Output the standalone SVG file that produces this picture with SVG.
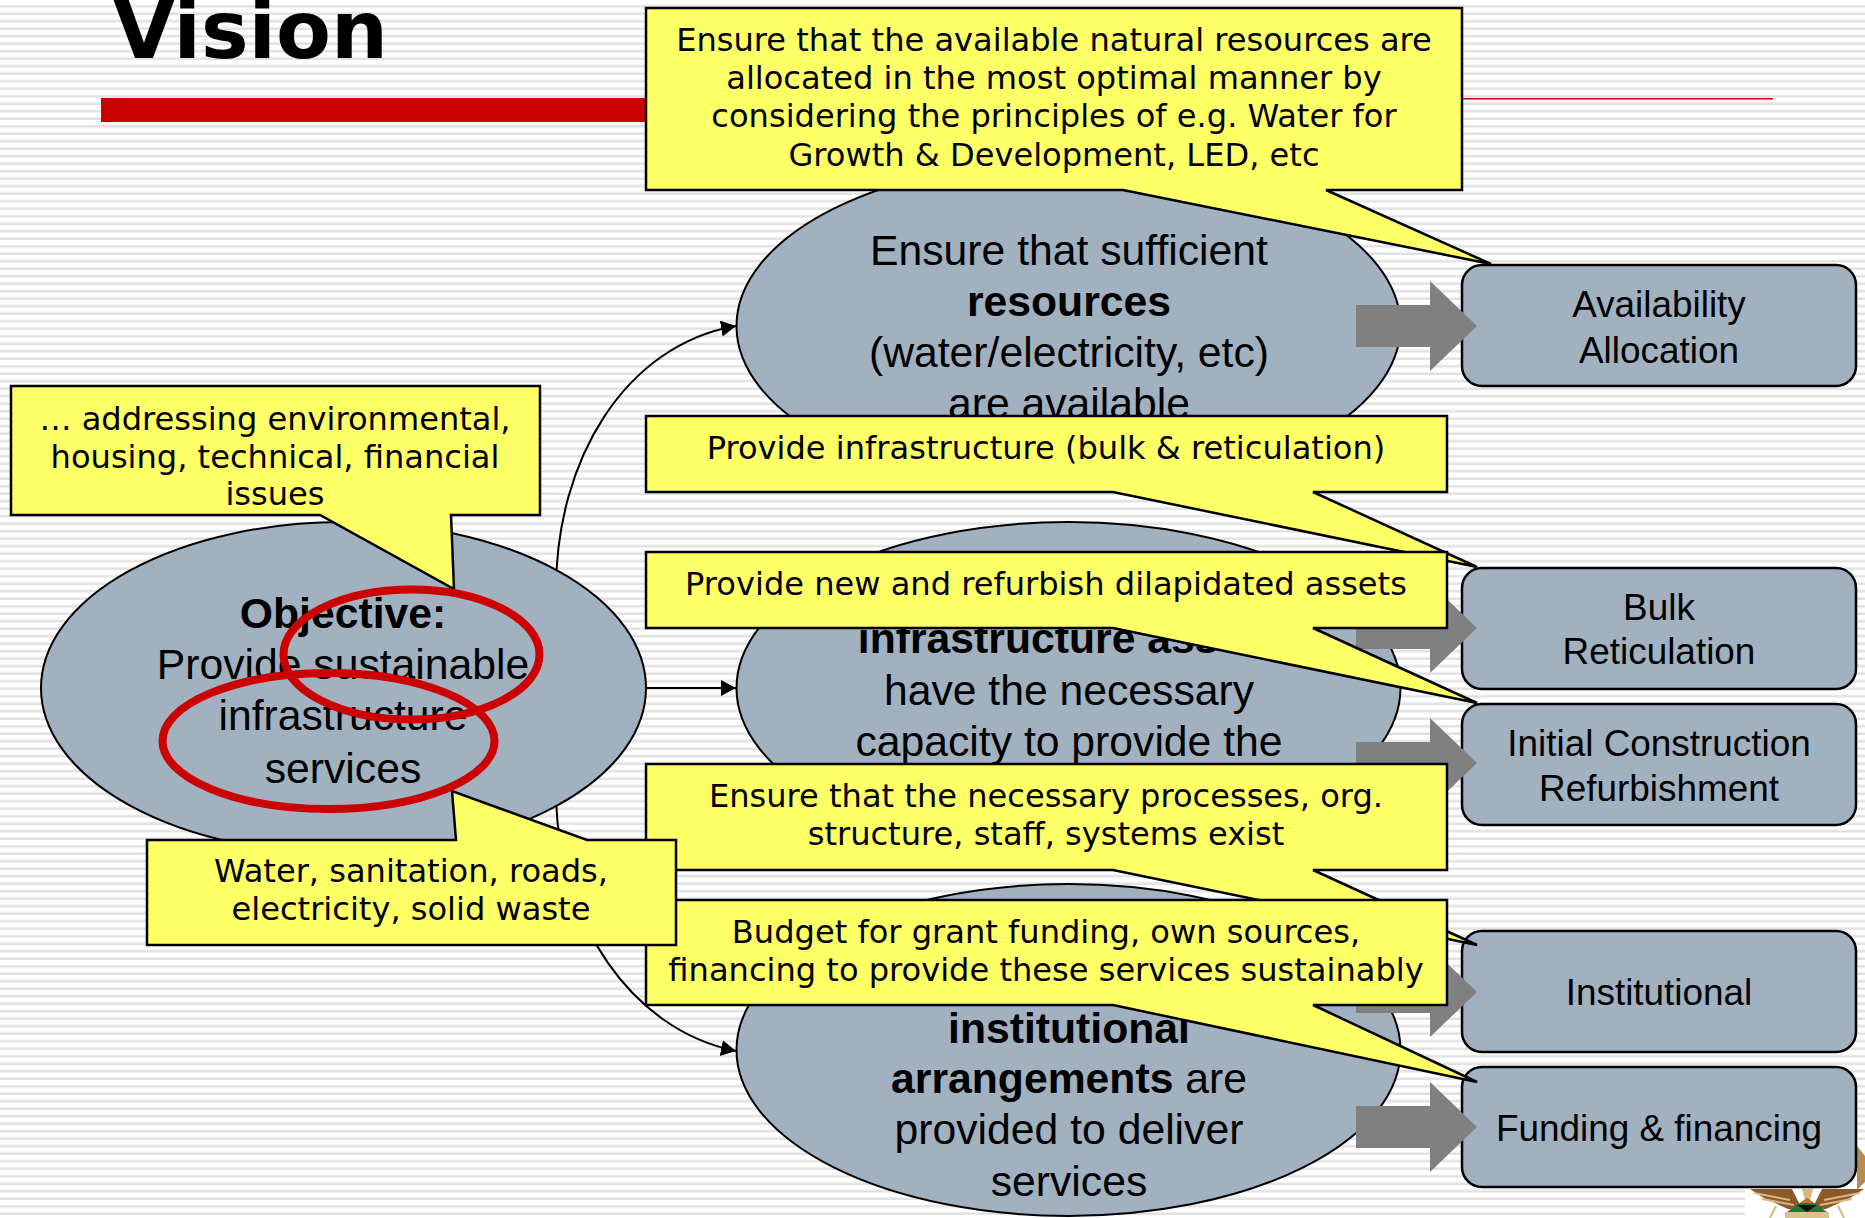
<svg xmlns="http://www.w3.org/2000/svg" width="1865" height="1218" viewBox="0 0 1865 1218">
<style>
.ell{fill:#a2b1c0;stroke:#000;stroke-width:2}
.box{fill:#a2b1c0;stroke:#000;stroke-width:2.5}
.call{fill:#ffff66;stroke:#000;stroke-width:2.5;stroke-linejoin:miter}
.ga{fill:#808080}
.red{fill:none;stroke:#cc0000;stroke-width:8}
.conn{fill:none;stroke:#000;stroke-width:2}
.e{font-family:"Liberation Sans",Arial,sans-serif;font-size:42.7px;text-anchor:middle;fill:#000}
.b{font-family:"Liberation Sans",Arial,sans-serif;font-size:36.9px;text-anchor:middle;fill:#000}
.c{font-family:"DejaVu Sans",Verdana,sans-serif;font-size:32.1px;text-anchor:middle;fill:#000}
.bold{font-weight:bold}
.tan{fill:none;stroke:#d9b77e;stroke-width:2}
</style>
<defs>
<pattern id="st" width="10" height="7.5" patternUnits="userSpaceOnUse">
<rect width="10" height="7.5" fill="#fff"/>
<rect y="4.5" width="10" height="1" fill="#ececec"/>
<rect y="5.5" width="10" height="2" fill="#e2e2e2"/>
</pattern>
<marker id="ah" markerUnits="userSpaceOnUse" markerWidth="16" markerHeight="18" refX="15" refY="8" orient="auto"><path d="M0,0L15,8L0,16Z" fill="#000"/></marker>
</defs>
<rect width="1865" height="1218" fill="url(#st)"/>
<g id="title">
<text x="113" y="58" font-family="'DejaVu Sans',Verdana,sans-serif" font-weight="bold" font-size="80px" fill="#000">Vision</text>
<rect x="101" y="98" width="560" height="24" fill="#cc0000"/>
<rect x="1450" y="98" width="323" height="1.5" fill="#cc0000"/>
</g>
<g id="crest">
<rect x="1745" y="1145" width="120" height="73" fill="#fff"/>
<path d="M1750,1189L1792,1189L1803,1211L1788,1209L1764,1198Z" fill="#8b5a2b"/>
<path d="M1864,1189L1822,1189L1811,1211L1826,1209L1850,1198Z" fill="#8b5a2b"/>
<path d="M1857,1146L1865,1156V1182L1857,1190Z" fill="#b98a4e"/>
<path class="tan" d="M1754,1193L1790,1200M1762,1199L1794,1205M1860,1193L1824,1200M1852,1199L1820,1205M1770,1218L1776,1206M1844,1218L1838,1206"/>
<path d="M1802,1189h11l-3,12h-5Z" fill="#d9b77e"/>
<path d="M1807,1198L1827,1212H1787Z" fill="#1f7a3a"/>
<path d="M1807,1198L1813,1203H1801Z" fill="#e2643a"/>
<path d="M1797,1205h20l-10,7Z" fill="#111"/>
<rect x="1785" y="1212" width="44" height="6" fill="#d8c48a"/>
</g>
<g id="connectors">
<path class="conn" d="M556,690V590C556,460 625,345 736,326" marker-end="url(#ah)"/>
<path class="conn" d="M646,688H736" marker-end="url(#ah)"/>
<path class="conn" d="M556,740V800C560,920 630,1030 736,1051" marker-end="url(#ah)"/>
</g>
<g id="objective">
<ellipse class="ell" cx="343.5" cy="688" rx="302.5" ry="166"/>
<text class="e"><tspan class="bold" x="343" y="628">Objective:</tspan><tspan x="343" y="679">Provide sustainable</tspan><tspan x="343" y="730">infrastructure</tspan><tspan x="343" y="783">services</tspan></text>
</g>
<g id="e1">
<ellipse class="ell" cx="1068.5" cy="326" rx="332" ry="166"/>
<text class="e"><tspan x="1069" y="265">Ensure that sufficient</tspan><tspan class="bold" x="1069" y="316">resources</tspan><tspan x="1069" y="367">(water/electricity, etc)</tspan><tspan x="1069" y="418">are available</tspan></text>
</g>
<g id="e2">
<ellipse class="ell" cx="1068.5" cy="688" rx="332" ry="166"/>
<text class="e"><tspan class="bold" x="1069" y="653">infrastructure assets</tspan><tspan x="1069" y="705">have the necessary</tspan><tspan x="1069" y="756">capacity to provide the</tspan></text>
</g>
<g id="e3">
<ellipse class="ell" cx="1068.5" cy="1050" rx="332" ry="166"/>
<text class="e"><tspan class="bold" x="1069" y="1043">institutional</tspan><tspan x="1069" y="1093"><tspan class="bold">arrangements</tspan> are</tspan><tspan x="1069" y="1144">provided to deliver</tspan><tspan x="1069" y="1196">services</tspan></text>
</g>
<g id="b1"><rect class="box" x="1462" y="265" width="394" height="121" rx="20"/><text class="b"><tspan x="1659" y="317">Availability</tspan><tspan x="1659" y="363">Allocation</tspan></text></g>
<g id="b2"><rect class="box" x="1462" y="568" width="394" height="121" rx="20"/><text class="b"><tspan x="1659" y="620">Bulk</tspan><tspan x="1659" y="664">Reticulation</tspan></text></g>
<g id="b3"><rect class="box" x="1462" y="704" width="394" height="121" rx="20"/><text class="b"><tspan x="1659" y="756">Initial Construction</tspan><tspan x="1659" y="801">Refurbishment</tspan></text></g>
<g id="b4"><rect class="box" x="1462" y="931" width="394" height="121" rx="20"/><text class="b" x="1659" y="1005">Institutional</text></g>
<g id="b5"><rect class="box" x="1462" y="1067" width="394" height="120" rx="20"/><text class="b" x="1659" y="1141">Funding &amp; financing</text></g>
<g id="arrows">
<path class="ga" d="M1356,305H1430V281L1477,326L1430,371V347H1356Z"/>
<path class="ga" d="M1356,607H1430V583L1477,628L1430,673V649H1356Z"/>
<path class="ga" d="M1356,742H1430V718L1477,763L1430,808V784H1356Z"/>
<path class="ga" d="M1356,971H1430V947L1477,992L1430,1037V1013H1356Z"/>
<path class="ga" d="M1356,1106H1430V1082L1477,1127L1430,1172V1148H1356Z"/>
</g>
<g id="call1"><path class="call" d="M646,8H1462V190H1326L1491,264L1123,190H646Z"/><text class="c"><tspan x="1054" y="51">Ensure that the available natural resources are</tspan><tspan x="1054" y="89">allocated in the most optimal manner by</tspan><tspan x="1054" y="127">considering the principles of e.g. Water for</tspan><tspan x="1054" y="166">Growth &amp; Development, LED, etc</tspan></text></g>
<g id="call2"><path class="call" d="M646,416H1447V492H1313L1477,567L1113,492H646Z"/><text class="c" x="1046" y="459">Provide infrastructure (bulk &amp; reticulation)</text></g>
<g id="call3"><path class="call" d="M646,552H1447V628H1313L1477,703L1113,628H646Z"/><text class="c" x="1046" y="595">Provide new and refurbish dilapidated assets</text></g>
<g id="call4"><path class="call" d="M646,764H1447V870H1313L1477,945L1113,870H646Z"/><text class="c"><tspan x="1046" y="807">Ensure that the necessary processes, org.</tspan><tspan x="1046" y="845">structure, staff, systems exist</tspan></text></g>
<g id="call5"><path class="call" d="M646,900H1447V1005H1313L1477,1082L1113,1005H646Z"/><text class="c"><tspan x="1046" y="943">Budget for grant funding, own sources,</tspan><tspan x="1046" y="981">financing to provide these services sustainably</tspan></text></g>
<g id="call6"><path class="call" d="M11,386H540V515H451L454,589L320,515H11Z"/><text class="c"><tspan x="275" y="430">… addressing environmental,</tspan><tspan x="275" y="468">housing, technical, financial</tspan><tspan x="275" y="505">issues</tspan></text></g>
<g id="call7"><path class="call" d="M147,840H456L452,791L587,840H676V945H147Z"/><text class="c"><tspan x="411" y="882">Water, sanitation, roads,</tspan><tspan x="411" y="920">electricity, solid waste</tspan></text></g>
<g id="rings">
<ellipse class="red" cx="411.5" cy="654.5" rx="128" ry="65"/>
<ellipse class="red" cx="328.5" cy="741" rx="166" ry="68"/>
</g>
</svg>
